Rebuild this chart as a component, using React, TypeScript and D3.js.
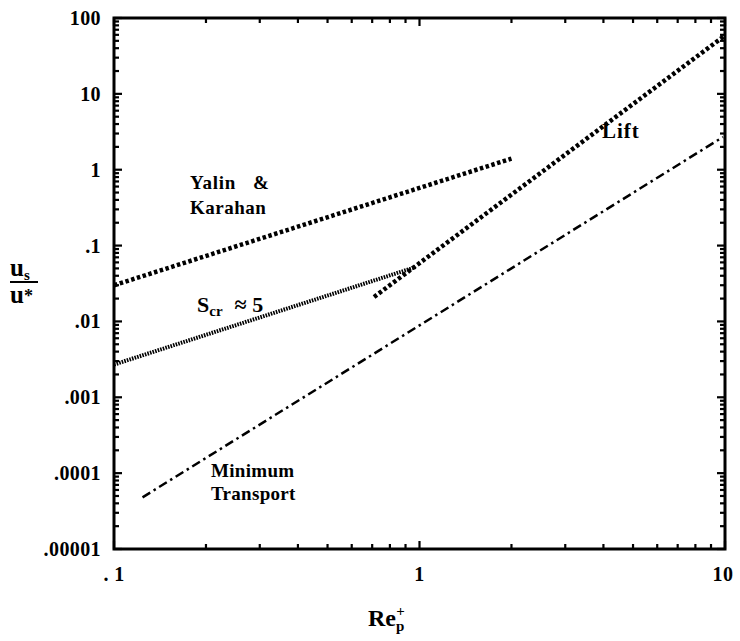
import React from "react";
import * as d3 from "d3";

// curves: [Re_p+, us/u*] endpoints (straight lines on log-log)
const yalinKarahan = [
  { x: 0.1, y: 0.03 },
  { x: 2.0, y: 1.4 },
];
const scrFive = [
  { x: 0.1, y: 0.0027 },
  { x: 0.97, y: 0.052 },
];
const lift = [
  { x: 0.71, y: 0.021 },
  { x: 9.9, y: 57 },
];
const minTransport = [
  { x: 0.124, y: 0.000048 },
  { x: 9.85, y: 2.7 },
];

const xTickLabels = [
  { v: 0.1, t: ". 1" },
  { v: 1, t: "1" },
  { v: 10, t: "10" },
];
const yTickLabels = [
  { v: 100, t: "100" },
  { v: 10, t: "10" },
  { v: 1, t: "1" },
  { v: 0.1, t: ".1" },
  { v: 0.01, t: ".01" },
  { v: 0.001, t: ".001" },
  { v: 0.0001, t: ".0001" },
  { v: 0.00001, t: ".00001" },
];

const W = 740;
const H = 641;
const margin = { left: 114, right: 15, top: 18, bottom: 92 };
const font = "Liberation Serif, DejaVu Serif, serif";

// all decade + minor tick values between lo and hi
function logTicks(lo: number, hi: number) {
  const out: { v: number; major: boolean }[] = [];
  for (let e = Math.round(Math.log10(lo)); e <= Math.round(Math.log10(hi)); e++) {
    const base = Math.pow(10, e);
    out.push({ v: base, major: true });
    if (base * 10 <= hi * 1.0001) {
      for (let k = 2; k <= 9; k++) out.push({ v: base * k, major: false });
    }
  }
  return out;
}

export default function App() {
  const x = d3
    .scaleLog()
    .domain([0.1, 10])
    .range([margin.left, W - margin.right]);
  const y = d3
    .scaleLog()
    .domain([0.00001, 100])
    .range([H - margin.bottom, margin.top]);

  const line = d3
    .line<{ x: number; y: number }>()
    .x((d) => x(d.x))
    .y((d) => y(d.y));

  const x0 = x.range()[0];
  const x1 = x.range()[1];
  const y0 = y.range()[0];
  const y1 = y.range()[1];

  const xt = logTicks(0.1, 10);
  const yt = logTicks(0.00001, 100);

  return (
    <svg
      width={W}
      height={H}
      style={{ position: "absolute", left: 0, top: 0, fontFamily: font, fontWeight: 700 }}
    >
      <rect width={W} height={H} fill="#fff" />

      {/* ticks, all pointing into the plot */}
      <g stroke="#000" strokeWidth={2.2}>
        {yt.map((d, i) => (
          <g key={"y" + i}>
            <line x1={x0} x2={x0 + (d.major ? 8 : 5)} y1={y(d.v)} y2={y(d.v)} />
            <line x1={x1} x2={x1 - (d.major ? 8 : 5)} y1={y(d.v)} y2={y(d.v)} />
          </g>
        ))}
        {xt.map((d, i) => (
          <g key={"x" + i}>
            <line y1={y0} y2={y0 - (d.major ? 8 : 5)} x1={x(d.v)} x2={x(d.v)} />
            <line y1={y1} y2={y1 + (d.major ? 8 : 5)} x1={x(d.v)} x2={x(d.v)} />
          </g>
        ))}
      </g>

      {/* frame */}
      <rect x={x0} y={y1} width={x1 - x0} height={y0 - y1} fill="none" stroke="#000" strokeWidth={3} />

      {/* curves */}
      <g fill="none" stroke="#000">
        <path d={line(yalinKarahan) || ""} strokeWidth={4.5} strokeDasharray="3.5 2.5" />
        <path d={line(lift) || ""} strokeWidth={4.5} strokeDasharray="3.5 2.5" />
        <path d={line(scrFive) || ""} strokeWidth={4} strokeDasharray="1.6 1.1" />
        <path d={line(minTransport) || ""} strokeWidth={2.5} strokeDasharray="9 4 2.5 4" />
      </g>

      {/* tick labels */}
      <g fontSize={20} fill="#000" letterSpacing={0.4}>
        {yTickLabels.map((d) => (
          <text key={d.t} x={x0 - 13} y={y(d.v)} dy="0.35em" textAnchor="end">
            {d.t}
          </text>
        ))}
        {xTickLabels.map((d) => (
          <text key={d.t} x={x(d.v) - (d.v === 10 ? 2 : 0)} y={y0 + 32} textAnchor="middle">
            {d.t}
          </text>
        ))}
      </g>

      {/* curve labels */}
      <g fontSize={19} fill="#000">
        <text x={190} y={189} xmlSpace="preserve" letterSpacing={0.8}>{"Yalin   &"}</text>
        <text x={190} y={214} letterSpacing={0.5}>Karahan</text>
        <text x={197} y={312} fontSize={22}>
          S<tspan fontSize={15} dy={4}>cr</tspan>
          <tspan dy={-4} dx={12}>≈ 5</tspan>
        </text>
        <text x={602} y={138} fontSize={21} letterSpacing={1}>Lift</text>
        <text x={211} y={477} letterSpacing={0.3}>Minimum</text>
        <text x={211} y={500} letterSpacing={0.3}>Transport</text>
      </g>

      {/* y axis label: us / u* */}
      <g fill="#000">
        <text x={10} y={276} fontSize={25}>
          u<tspan fontSize={15} dy={4}>s</tspan>
        </text>
        <line x1={10} x2={38} y1={282} y2={282} stroke="#000" strokeWidth={2} />
        <text x={10} y={303} fontSize={25}>
          u<tspan fontSize={18} dy={-1}>*</tspan>
        </text>
      </g>

      {/* x axis label: Re_p+ */}
      <text x={368} y={626} fontSize={24} fill="#000">
        Re
        <tspan fontSize={15} dy={5}>p</tspan>
        <tspan fontSize={15} dx={-8} dy={-15}>+</tspan>
      </text>
    </svg>
  );
}
